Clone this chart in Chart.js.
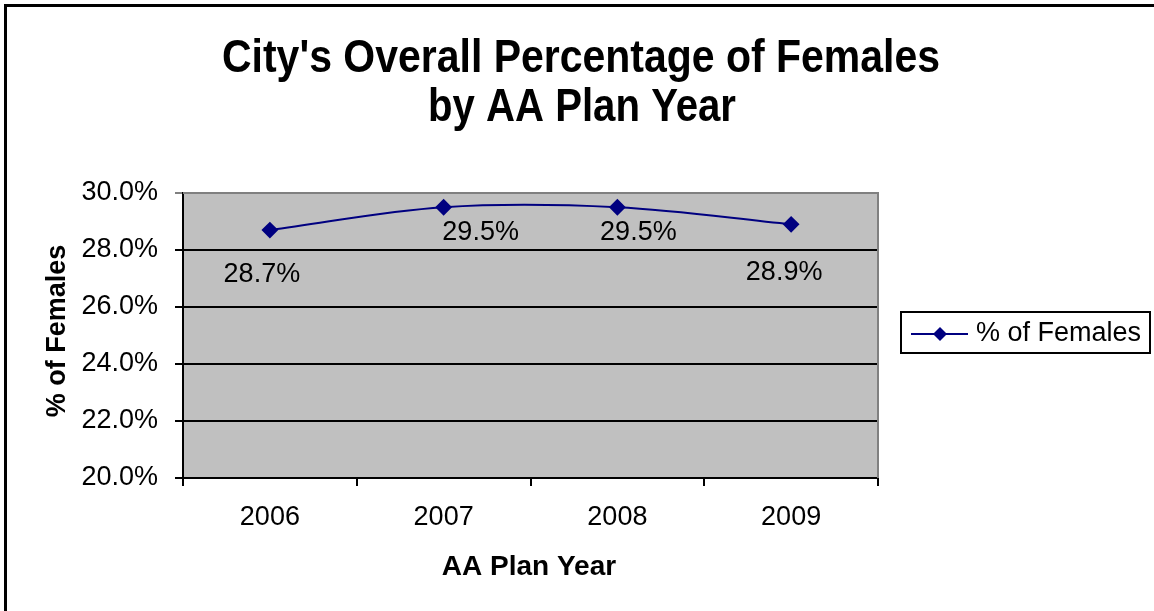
<!DOCTYPE html>
<html>
<head>
<meta charset="utf-8">
<script src="https://cdn.jsdelivr.net/npm/chart.js@4"></script>
<style>
  html, body { margin: 0; padding: 0; background: #fff; }
  #wrap { width: 1154px; height: 611px; position: relative; }
</style>
</head>
<body>
<div id="wrap"><canvas id="chart" width="1154" height="611"></canvas></div>
<script>
// --- data ---
const years = ['2006', '2007', '2008', '2009'];
const femalePct = [28.7, 29.5, 29.5, 28.9];
const yTicks = [20, 22, 24, 26, 28, 30];

const titleLines = ["City's Overall Percentage of Females", 'by AA Plan Year'];
const seriesName = '% of Females';
const xTitle = 'AA Plan Year';
const yTitle = '% of Females';

const FONT = '"Liberation Sans", Arial, sans-serif';
const NAVY = '#000080';

// data label offsets (label centre relative to its point), hand placed like the original
const labelShift = [[-8, 44], [37, 25], [21, 25], [-7, 48]];

// title is a condensed bold face in the original -> squeeze it horizontally
function condensedText(ctx, text, cx, baseline, width) {
    const w = ctx.measureText(text).width;
    ctx.save();
    ctx.translate(cx, baseline);
    ctx.scale(width / w, 1);
    ctx.fillText(text, 0, 0);
    ctx.restore();
}

// background, border, titles, labels, legend
const decorPlugin = {
    id: 'decor',
    beforeDraw(chart) {
        const { ctx, chartArea: a } = chart;
        ctx.save();
        ctx.fillStyle = '#fff';
        ctx.fillRect(0, 0, chart.width, chart.height);
        ctx.fillStyle = '#C0C0C0';
        ctx.fillRect(a.left, a.top, a.right - a.left, a.bottom - a.top);
        ctx.restore();
    },
    afterDraw(chart) {
        const { ctx, chartArea: a } = chart;
        ctx.save();

        // plot area border (top / right gray)
        ctx.strokeStyle = '#808080';
        ctx.lineWidth = 2;
        ctx.beginPath();
        ctx.moveTo(a.left, a.top);
        ctx.lineTo(a.right, a.top);
        ctx.lineTo(a.right, a.bottom);
        ctx.stroke();

        // outer chart border
        ctx.strokeStyle = '#000';
        ctx.lineWidth = 3;
        ctx.strokeRect(5.5, 5.5, chart.width + 20, chart.height + 20);

        // title
        ctx.fillStyle = '#000';
        ctx.textAlign = 'center';
        ctx.textBaseline = 'alphabetic';
        ctx.font = 'bold 47px ' + FONT;
        condensedText(ctx, titleLines[0], 581, 72, 718);
        condensedText(ctx, titleLines[1], 582, 121, 308);

        // axis titles
        ctx.textBaseline = 'middle';
        ctx.font = 'bold 28px ' + FONT;
        ctx.fillText(xTitle, 529, 567);
        ctx.font = 'bold 27px ' + FONT;
        ctx.save();
        ctx.translate(58, 331);
        ctx.rotate(-Math.PI / 2);
        ctx.fillText(yTitle, 0, 0);
        ctx.restore();

        // data labels
        ctx.font = '27px ' + FONT;
        const meta = chart.getDatasetMeta(0);
        meta.data.forEach((pt, i) => {
            const s = labelShift[i];
            ctx.fillText(femalePct[i].toFixed(1) + '%', pt.x + s[0], pt.y + s[1]);
        });

        // legend
        ctx.strokeStyle = '#000';
        ctx.lineWidth = 2;
        ctx.strokeRect(901, 312, 249, 41);
        ctx.strokeStyle = NAVY;
        ctx.beginPath();
        ctx.moveTo(911, 334);
        ctx.lineTo(968, 334);
        ctx.stroke();
        ctx.fillStyle = NAVY;
        ctx.beginPath();
        ctx.moveTo(940, 327);
        ctx.lineTo(947, 334);
        ctx.lineTo(940, 341);
        ctx.lineTo(933, 334);
        ctx.closePath();
        ctx.fill();
        ctx.fillStyle = '#000';
        ctx.textAlign = 'left';
        ctx.font = '27px ' + FONT;
        ctx.fillText(seriesName, 976, 334);

        ctx.restore();
    }
};

new Chart(document.getElementById('chart'), {
    type: 'line',
    data: {
        labels: years,
        datasets: [{
            label: seriesName,
            data: femalePct,
            borderColor: NAVY,
            backgroundColor: NAVY,
            borderWidth: 2,
            tension: 0.35,
            pointStyle: 'rectRot',
            pointRadius: 7,
            pointHoverRadius: 7
        }]
    },
    options: {
        responsive: false,
        animation: false,
        events: [],
        layout: { padding: { top: 193, right: 276, left: 0, bottom: 0 } },
        plugins: {
            legend: { display: false },
            title: { display: false },
            tooltip: { enabled: false }
        },
        scales: {
            x: {
                offset: true,
                afterFit: s => { s.height = 133; },
                grid: {
                    offset: true,
                    drawOnChartArea: false,
                    drawTicks: true,
                    tickLength: 8,
                    color: '#000',
                    lineWidth: 2
                },
                border: { display: true, color: '#000', width: 2 },
                ticks: {
                    color: '#000',
                    padding: 15,
                    font: { family: FONT, size: 27 }
                }
            },
            y: {
                min: yTicks[0],
                max: yTicks[yTicks.length - 1],
                afterFit: s => { s.width = 183; },
                afterBuildTicks: s => { s.ticks = yTicks.map(v => ({ value: v })); },
                grid: {
                    tickLength: 8,
                    color: c => c.tick && c.tick.value === 30 ? '#808080' : '#000',
                    lineWidth: 2
                },
                border: { display: true, color: '#000', width: 2 },
                ticks: {
                    color: '#000',
                    padding: 17,
                    font: { family: FONT, size: 27 },
                    callback: v => v.toFixed(1) + '%'
                }
            }
        }
    },
    plugins: [decorPlugin]
});
</script>
</body>
</html>
